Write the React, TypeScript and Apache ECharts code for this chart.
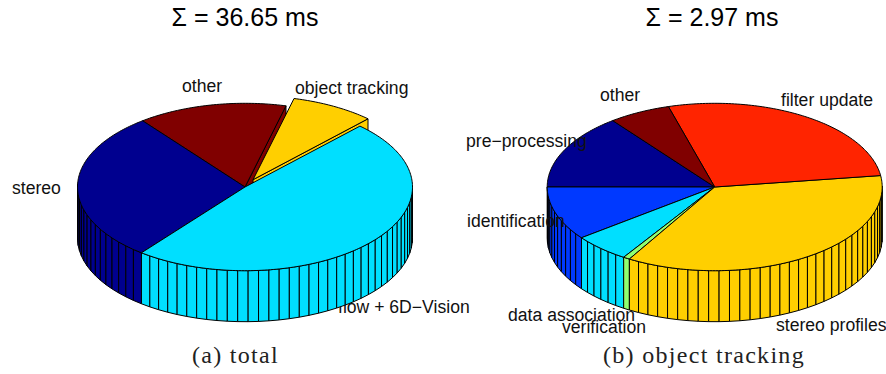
import React, { useEffect, useRef } from "react";
import * as echarts from "echarts";

const START_A = 127.7;
const namesA = ["stereo", "flow + 6D−Vision", "object tracking", "other"];
const valuesA = [10.6, 17.8, 2.97, 5.28];
const colorsA = ["#00008f", "#00dfff", "#ffcf00", "#800000"];
const explodeA = [0, 0, 1, 0];
const paintA = [3, 0, 2, 1];

const START_B = 127.5;
const namesB = ["pre−processing", "identification", "data association", "verification", "stereo profiles", "filter update", "other"];
const valuesB = [0.433, 0.308, 0.163, 0.019, 1.06, 0.81, 0.177];
const colorsB = ["#00008f", "#0039ff", "#00dfff", "#8fff70", "#ffcf00", "#ff2400", "#800000"];
const explodeB = [0, 0, 0, 0, 0, 0, 0];
const paintB = [0, 1, 2, 3, 4, 5, 6];

const titles = ["Σ = 36.65 ms", "Σ = 2.97 ms"];
const captions = ["(a) total", "(b) object tracking"];

const RX = 167.5, RY = 83.7, CY = 187, CXA = 245, CXB = 714.7;
const DEPTH = 51 / RY;
const rad = (d: number) => (d * Math.PI) / 180;

function makeRender(values: number[], colors: string[], explode: number[], start: number) {
  const total = values.reduce((a, b) => a + b, 0);
  const edges: number[] = [start];
  values.forEach((v) => edges.push(edges[edges.length - 1] + (v / total) * 360));
  return (_p: any, api: any) => {
    const i = api.value(0);
    const t0 = edges[i], t1 = edges[i + 1];
    const frac = values[i] / total;
    const n = Math.max(1, Math.ceil(100 * frac));
    const mid = rad((t0 + t1) / 2);
    const ox = explode[i] ? 0.1 * Math.cos(mid) : 0;
    const oy = explode[i] ? 0.1 * Math.sin(mid) : 0;
    const P = (t: number, r = 1, z = 0) => api.coord([ox + r * Math.cos(rad(t)), oy + r * Math.sin(rad(t)) - z]);
    const style = { fill: colors[i], stroke: "#000", lineWidth: 1, lineJoin: "round" };
    const children: any[] = [];
    const wall = (t: number) => {
      children.push({ type: "polygon", shape: { points: [P(t, 0), P(t), P(t, 1, DEPTH), P(t, 0, DEPTH)] }, style });
    };
    const prev = (i + values.length - 1) % values.length;
    if (explode[i] || explode[prev]) wall(t0);
    for (let k = 0; k < n; k++) {
      const a = t0 + ((t1 - t0) * k) / n, b = t0 + ((t1 - t0) * (k + 1)) / n;
      if (Math.sin(rad(a)) < 0 || Math.sin(rad(b)) < 0) {
        children.push({ type: "polygon", shape: { points: [P(a), P(b), P(b, 1, DEPTH), P(a, 1, DEPTH)] }, style });
      }
    }
    const top: number[][] = [P(t0, 0)];
    const m = Math.max(2, Math.ceil(t1 - t0));
    for (let k = 0; k <= m; k++) top.push(P(t0 + ((t1 - t0) * k) / m));
    children.push({ type: "polygon", shape: { points: top }, style });
    return { type: "group", children };
  };
}

const SANS = '"Liberation Sans", Arial, sans-serif';
const SERIF = '"Liberation Serif", serif';
const label = (text: string, x: number, y: number, z = 10) => ({
  type: "text", x, y, z,
  style: { text, fill: "#111", font: `17.6px ${SANS}`, textAlign: "left", textVerticalAlign: "middle" },
});
const head = (text: string, x: number) => ({
  type: "text", x, y: 17, z: 10,
  style: { text, fill: "#000", font: `25px ${SANS}`, textAlign: "center", textVerticalAlign: "middle" },
});
const caption = (text: string, x: number) => ({
  type: "text", x, y: 355, z: 10,
  style: { text, fill: "#222", font: `24px ${SERIF}`, textAlign: "center", textVerticalAlign: "middle" },
});

export default function App() {
  const ref = useRef<HTMLDivElement>(null);
  useEffect(() => {
    const chart = echarts.init(ref.current!, null, { renderer: "svg" });
    const axis = (gridIndex: number) => ({ type: "value", min: -1, max: 1, show: false, gridIndex });
    chart.setOption({
      animation: false,
      backgroundColor: "#fff",
      grid: [
        { left: CXA - RX, width: 2 * RX, top: CY - RY, height: 2 * RY },
        { left: CXB - RX, width: 2 * RX, top: CY - RY, height: 2 * RY },
      ],
      xAxis: [axis(0), axis(1)],
      yAxis: [axis(0), axis(1)],
      series: [
        {
          type: "custom", xAxisIndex: 0, yAxisIndex: 0, z: 5, clip: false,
          renderItem: makeRender(valuesA, colorsA, explodeA, START_A),
          data: paintA.map((i) => [i, valuesA[i]]),
        },
        {
          type: "custom", xAxisIndex: 1, yAxisIndex: 1, z: 5, clip: false,
          renderItem: makeRender(valuesB, colorsB, explodeB, START_B),
          data: paintB.map((i) => [i, valuesB[i]]),
        },
      ],
      graphic: [
        head(titles[0], 245), head(titles[1], 712),
        caption(captions[0], 235.5), caption(captions[1], 704),
        label(namesA[0], 12, 188), label(namesA[1], 338, 307, 1),
        label(namesA[2], 295, 88), label(namesA[3], 182, 86),
        label(namesB[0], 466, 141), label(namesB[1], 467, 221),
        label(namesB[2], 508, 315), label(namesB[3], 562, 327),
        label(namesB[4], 776, 325), label(namesB[5], 781, 100),
        label(namesB[6], 600, 95),
      ],
    });
    return () => chart.dispose();
  }, []);
  return (
    <>
      <style>{'text[style*="Serif"]{letter-spacing:1.3px}'}</style>
      <div ref={ref} style={{ position: "absolute", left: 0, top: 0, width: 886, height: 374 }} />
    </>
  );
}
